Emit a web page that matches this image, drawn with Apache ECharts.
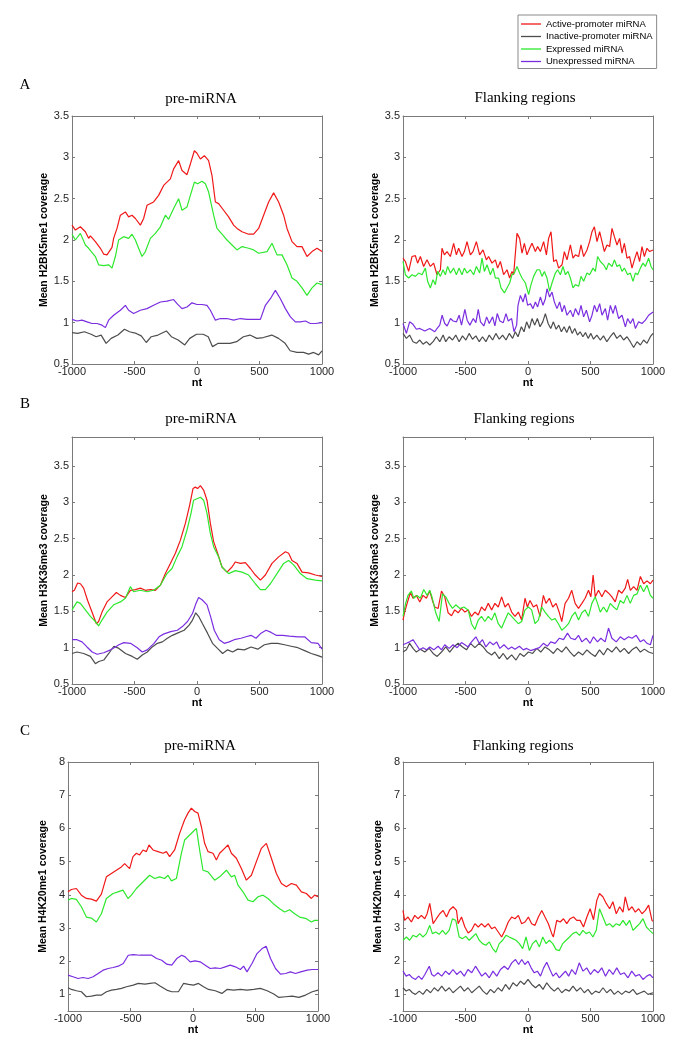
<!DOCTYPE html>
<html><head><meta charset="utf-8">
<script src="https://cdn.jsdelivr.net/npm/echarts@6/dist/echarts.min.js"></script>
<style>html,body{margin:0;padding:0;background:#fff}#c{width:685px;height:1051px}</style>
</head><body><div id="c"></div>
<script>
// ---------- tick labels ----------
const xTicks = [-1000, -500, 0, 500, 1000];
const yTicksA = [0.5, 1, 1.5, 2, 2.5, 3, 3.5];
const yTicksB = [0.5, 1, 1.5, 2, 2.5, 3, 3.5];
const yTicksC = [1, 2, 3, 4, 5, 6, 7, 8];
const seriesNames = ['Active-promoter miRNA', 'Inactive-promoter miRNA', 'Expressed miRNA', 'Unexpressed miRNA'];
const panelTitles = ['pre-miRNA', 'Flanking regions'];
const yNames = ['Mean H2BK5me1 coverage', 'Mean H3K36me3 coverage', 'Mean H4K20me1 coverage'];

// ---------- A: pre-miRNA ----------
const A_L_red = [[-1000,2.18],[-973,2.12],[-933,2.16],[-893,2.10],[-867,2.02],[-853,2.05],[-813,1.98],[-773,1.90],[-747,1.83],[-720,1.82],[-680,1.91],[-667,2.02],[-640,2.14],[-613,2.30],[-573,2.34],[-547,2.28],[-520,2.30],[-493,2.26],[-453,2.18],[-427,2.26],[-400,2.42],[-347,2.46],[-307,2.54],[-267,2.66],[-213,2.74],[-187,2.86],[-147,2.96],[-120,2.84],[-80,2.79],[-53,2.92],[-21,3.08],[0,3.05],[27,2.98],[59,3.02],[93,2.96],[120,2.78],[147,2.46],[173,2.44],[213,2.36],[253,2.28],[293,2.18],[320,2.14],[360,2.10],[413,2.07],[453,2.07],[493,2.14],[533,2.30],[573,2.46],[613,2.57],[653,2.46],[693,2.30],[720,2.14],[760,1.98],[800,1.92],[840,1.92],[880,1.80],[920,1.86],[960,1.90],[1000,1.86]];
const A_L_gray = [[-1000,0.88],[-955,0.87],[-901,0.89],[-847,0.86],[-807,0.83],[-767,0.85],[-727,0.75],[-687,0.81],[-633,0.85],[-580,0.92],[-540,0.89],[-486,0.87],[-446,0.84],[-406,0.76],[-366,0.83],[-312,0.85],[-245,0.90],[-205,0.83],[-151,0.79],[-98,0.73],[-58,0.81],[-4,0.86],[49,0.86],[90,0.83],[124,0.71],[170,0.75],[210,0.75],[264,0.75],[317,0.77],[371,0.83],[424,0.85],[478,0.81],[531,0.82],[598,0.85],[652,0.81],[705,0.75],[745,0.66],[799,0.64],[852,0.64],[893,0.62],[933,0.64],[973,0.61],[1000,0.66]];
const A_L_green = [[-1000,2.07],[-973,2.00],[-933,2.08],[-893,1.94],[-867,1.90],[-813,1.80],[-787,1.70],[-747,1.69],[-707,1.70],[-680,1.66],[-653,1.80],[-627,2.00],[-587,2.04],[-547,2.02],[-520,2.07],[-493,2.00],[-467,1.90],[-440,1.80],[-413,1.86],[-373,2.02],[-333,2.08],[-293,2.16],[-253,2.30],[-227,2.25],[-187,2.38],[-147,2.50],[-120,2.36],[-80,2.40],[-53,2.54],[-21,2.70],[5,2.68],[40,2.71],[67,2.68],[93,2.58],[133,2.30],[160,2.14],[200,2.07],[240,2.00],[280,1.94],[320,1.88],[360,1.92],[413,1.90],[453,1.88],[493,1.84],[560,1.86],[600,1.96],[640,1.82],[680,1.82],[720,1.70],[760,1.54],[800,1.50],[840,1.42],[880,1.33],[920,1.42],[960,1.48],[1000,1.46]];
const A_L_purple = [[-1000,1.04],[-960,1.02],[-920,1.03],[-880,1.01],[-840,0.99],[-800,0.99],[-760,0.97],[-733,0.94],[-707,1.03],[-667,1.09],[-613,1.15],[-573,1.21],[-547,1.15],[-507,1.11],[-453,1.15],[-400,1.17],[-347,1.21],[-293,1.25],[-240,1.26],[-187,1.28],[-160,1.23],[-120,1.17],[-80,1.19],[-40,1.24],[0,1.22],[40,1.22],[80,1.21],[107,1.15],[147,1.03],[187,1.05],[240,1.05],[293,1.03],[347,1.05],[400,1.04],[453,1.04],[507,1.04],[547,1.21],[587,1.29],[627,1.39],[667,1.29],[707,1.17],[747,1.07],[787,1.01],[827,1.01],[867,1.02],[907,0.99],[947,0.99],[1000,1.00]];

// ---------- A: flanking ----------
const A_R_red = [[-1000,1.78],[-981,1.74],[-955,1.62],[-928,1.80],[-901,1.81],[-883,1.72],[-861,1.80],[-835,1.68],[-808,1.76],[-781,1.68],[-755,1.72],[-728,1.58],[-701,1.64],[-688,1.90],[-669,1.82],[-648,1.86],[-621,1.80],[-595,1.96],[-573,1.82],[-555,1.90],[-528,1.80],[-509,1.86],[-488,1.98],[-461,1.82],[-440,1.86],[-413,1.98],[-387,1.82],[-360,1.88],[-333,1.76],[-315,1.80],[-288,1.72],[-261,1.76],[-243,1.66],[-221,1.74],[-195,1.58],[-168,1.64],[-147,1.54],[-128,1.62],[-115,1.58],[-88,2.08],[-67,2.02],[-48,1.84],[-29,1.96],[-8,1.82],[13,1.90],[32,1.96],[59,1.86],[77,1.92],[99,1.86],[125,1.98],[147,1.82],[165,2.02],[184,2.10],[205,1.74],[227,1.76],[245,1.66],[272,1.70],[291,1.86],[312,1.76],[339,1.94],[360,1.78],[379,1.82],[405,1.80],[424,1.94],[445,1.80],[472,1.88],[493,1.98],[512,2.10],[531,2.16],[552,1.98],[573,2.10],[592,1.98],[611,1.86],[632,1.94],[653,1.92],[672,2.14],[691,2.04],[712,1.94],[733,2.02],[752,1.84],[771,1.96],[792,1.78],[813,1.80],[832,1.66],[851,1.76],[872,1.86],[893,1.74],[912,1.92],[931,1.80],[952,1.90],[973,1.86],[1000,1.88]];
const A_R_gray = [[-1000,0.87],[-973,0.81],[-947,0.85],[-920,0.77],[-893,0.75],[-866,0.79],[-840,0.74],[-813,0.77],[-786,0.73],[-759,0.77],[-733,0.83],[-706,0.77],[-679,0.85],[-658,0.77],[-631,0.83],[-604,0.79],[-578,0.85],[-551,0.77],[-524,0.84],[-497,0.79],[-471,0.87],[-444,0.80],[-417,0.84],[-390,0.77],[-364,0.83],[-337,0.77],[-310,0.85],[-283,0.79],[-257,0.87],[-230,0.80],[-203,0.85],[-176,0.79],[-150,0.87],[-123,0.81],[-102,0.89],[-80,0.83],[-53,0.95],[-32,0.89],[-11,1.01],[11,0.93],[32,1.05],[54,0.97],[75,1.05],[96,0.95],[118,1.01],[139,1.11],[161,0.99],[182,0.93],[203,1.01],[225,0.92],[246,0.97],[267,0.89],[289,0.95],[310,0.88],[332,0.96],[353,0.87],[374,0.93],[396,0.85],[417,0.89],[439,0.83],[460,0.88],[481,0.81],[503,0.87],[524,0.80],[551,0.85],[578,0.79],[604,0.84],[631,0.77],[658,0.83],[685,0.88],[711,0.81],[738,0.85],[765,0.79],[792,0.83],[818,0.77],[845,0.70],[872,0.77],[899,0.73],[925,0.79],[952,0.75],[979,0.83],[1000,0.87]];
const A_R_green = [[-1000,1.74],[-981,1.58],[-955,1.54],[-928,1.58],[-901,1.56],[-875,1.60],[-848,1.58],[-821,1.66],[-803,1.50],[-781,1.42],[-760,1.52],[-741,1.46],[-723,1.62],[-701,1.56],[-680,1.64],[-661,1.58],[-643,1.68],[-621,1.60],[-595,1.66],[-573,1.58],[-552,1.66],[-528,1.58],[-509,1.66],[-488,1.60],[-461,1.64],[-435,1.58],[-413,1.68],[-387,1.60],[-368,1.78],[-349,1.62],[-328,1.70],[-301,1.58],[-280,1.66],[-261,1.54],[-235,1.54],[-216,1.42],[-189,1.36],[-168,1.42],[-147,1.48],[-128,1.58],[-109,1.60],[-88,1.68],[-67,1.60],[-48,1.54],[-21,1.48],[5,1.34],[24,1.46],[45,1.56],[72,1.64],[93,1.64],[112,1.56],[131,1.62],[152,1.54],[173,1.38],[192,1.48],[219,1.60],[237,1.64],[259,1.58],[280,1.68],[299,1.58],[320,1.62],[339,1.54],[360,1.42],[379,1.46],[405,1.44],[424,1.56],[445,1.50],[472,1.60],[493,1.58],[520,1.66],[539,1.62],[557,1.80],[579,1.74],[605,1.70],[627,1.64],[645,1.72],[672,1.68],[691,1.76],[712,1.68],[733,1.70],[752,1.62],[771,1.66],[797,1.58],[819,1.60],[840,1.50],[859,1.60],[877,1.58],[899,1.66],[920,1.72],[939,1.68],[965,1.78],[984,1.68],[1000,1.64]];
const A_R_purple = [[-1000,0.99],[-973,0.87],[-947,1.01],[-920,0.98],[-893,0.92],[-866,0.93],[-826,0.90],[-786,0.93],[-746,0.89],[-727,0.93],[-706,0.97],[-687,1.09],[-666,0.99],[-647,0.96],[-620,1.05],[-599,1.02],[-572,1.01],[-551,1.09],[-532,0.97],[-505,1.16],[-487,1.03],[-465,0.97],[-438,1.05],[-417,1.00],[-398,1.16],[-380,1.01],[-353,0.96],[-331,1.07],[-310,0.99],[-283,1.07],[-265,0.96],[-246,1.11],[-225,1.02],[-198,1.00],[-176,1.11],[-158,1.02],[-131,1.05],[-112,0.89],[-91,0.97],[-80,1.21],[-61,1.33],[-40,1.25],[-21,1.35],[-3,1.21],[19,1.23],[40,1.17],[59,1.25],[77,1.19],[99,1.31],[120,1.21],[139,1.29],[152,1.41],[173,1.31],[192,1.37],[211,1.25],[232,1.17],[253,1.25],[272,1.13],[291,1.21],[312,1.09],[339,1.15],[360,1.07],[379,1.17],[405,1.09],[424,1.21],[445,1.07],[467,1.15],[493,1.01],[512,1.09],[531,1.21],[552,1.13],[573,1.23],[592,1.09],[619,1.17],[637,1.03],[659,1.21],[680,1.11],[699,1.21],[725,1.05],[752,1.09],[779,0.95],[797,1.05],[819,0.99],[840,1.05],[859,0.93],[885,1.01],[912,0.99],[939,1.03],[965,1.09],[1000,1.13]];

// ---------- B: pre-miRNA ----------
const B_L_red = [[-1000,1.77],[-981,1.79],[-955,1.89],[-933,1.88],[-907,1.82],[-875,1.65],[-840,1.49],[-805,1.33],[-787,1.36],[-760,1.49],[-720,1.63],[-680,1.70],[-645,1.76],[-613,1.72],[-573,1.69],[-533,1.79],[-493,1.80],[-453,1.82],[-413,1.79],[-373,1.80],[-333,1.79],[-293,1.86],[-253,2.02],[-213,2.16],[-173,2.30],[-133,2.48],[-93,2.71],[-59,2.96],[-32,3.19],[-13,3.21],[5,3.19],[27,3.23],[53,3.17],[80,3.03],[107,2.71],[133,2.46],[165,2.30],[200,2.11],[240,2.04],[280,2.11],[307,2.18],[347,2.16],[387,2.17],[427,2.09],[467,2.00],[507,1.93],[547,2.00],[600,2.16],[653,2.25],[707,2.32],[733,2.30],[760,2.20],[800,2.16],[840,2.04],[893,2.03],[947,2.00],[1000,1.98]];
const B_L_gray = [[-1000,0.92],[-960,0.94],[-906,0.92],[-853,0.88],[-813,0.78],[-786,0.81],[-746,0.83],[-706,0.92],[-665,1.02],[-625,0.99],[-572,0.92],[-518,0.88],[-478,0.84],[-438,0.90],[-398,0.94],[-358,1.01],[-317,1.06],[-277,1.08],[-237,1.13],[-197,1.17],[-157,1.20],[-103,1.24],[-63,1.31],[-36,1.38],[-10,1.48],[17,1.42],[44,1.33],[84,1.20],[124,1.06],[164,0.99],[205,0.92],[245,0.97],[285,0.94],[325,0.98],[379,0.97],[432,1.01],[486,0.98],[539,1.04],[593,1.06],[646,1.06],[700,1.04],[753,1.02],[807,1.00],[861,0.96],[914,0.92],[968,0.89],[1000,0.87]];
const B_L_green = [[-1000,1.52],[-960,1.63],[-933,1.61],[-893,1.52],[-853,1.43],[-813,1.36],[-787,1.30],[-760,1.38],[-720,1.49],[-667,1.59],[-613,1.63],[-573,1.68],[-533,1.84],[-507,1.77],[-453,1.79],[-400,1.77],[-347,1.79],[-293,1.86],[-240,2.02],[-200,2.09],[-160,2.25],[-120,2.39],[-80,2.62],[-48,2.85],[-27,3.03],[0,3.05],[27,3.07],[53,3.03],[80,2.85],[107,2.57],[133,2.39],[173,2.25],[200,2.11],[253,2.02],[307,2.06],[360,2.04],[413,2.00],[467,1.88],[507,1.80],[547,1.80],[587,1.88],[640,2.02],[693,2.16],[733,2.20],[773,2.14],[827,2.02],[880,1.95],[947,1.93],[1000,1.92]];
const B_L_purple = [[-1000,1.11],[-960,1.11],[-920,1.08],[-880,1.01],[-839,0.94],[-799,0.91],[-746,0.93],[-692,0.97],[-652,1.01],[-625,1.04],[-585,1.07],[-532,1.06],[-478,1.00],[-438,0.94],[-398,0.97],[-344,1.06],[-304,1.15],[-264,1.19],[-210,1.22],[-157,1.24],[-117,1.29],[-76,1.36],[-36,1.47],[-10,1.60],[13,1.69],[40,1.66],[80,1.59],[110,1.42],[138,1.24],[178,1.11],[218,1.06],[258,1.08],[298,1.11],[352,1.13],[392,1.15],[432,1.17],[472,1.13],[512,1.20],[553,1.24],[593,1.21],[633,1.17],[686,1.17],[740,1.16],[807,1.15],[861,1.15],[914,1.07],[968,1.06],[1000,0.98]];

// ---------- B: flanking ----------
const B_R_red = [[-1000,1.38],[-987,1.49],[-960,1.65],[-941,1.76],[-920,1.68],[-893,1.72],[-866,1.63],[-840,1.72],[-813,1.68],[-786,1.78],[-765,1.65],[-746,1.56],[-719,1.54],[-692,1.78],[-666,1.70],[-639,1.48],[-612,1.44],[-586,1.52],[-559,1.48],[-532,1.54],[-505,1.49],[-479,1.52],[-452,1.43],[-425,1.49],[-398,1.45],[-372,1.56],[-345,1.51],[-318,1.61],[-291,1.52],[-265,1.61],[-238,1.56],[-211,1.70],[-184,1.56],[-158,1.61],[-131,1.49],[-104,1.43],[-77,1.49],[-51,1.38],[-24,1.68],[-5,1.56],[16,1.65],[43,1.56],[70,1.59],[96,1.43],[123,1.72],[144,1.61],[171,1.68],[198,1.56],[225,1.61],[251,1.48],[270,1.36],[297,1.61],[324,1.68],[350,1.79],[377,1.61],[404,1.54],[431,1.61],[457,1.68],[484,1.79],[503,1.70],[521,2.00],[538,1.70],[564,1.79],[591,1.70],[618,1.79],[645,1.75],[671,1.70],[698,1.63],[725,1.79],[751,1.75],[778,1.82],[797,1.94],[819,1.79],[845,1.84],[872,1.79],[899,1.98],[925,1.88],[952,1.92],[979,1.88],[1000,1.93]];
const B_R_gray = [[-1000,0.94],[-973,0.97],[-947,1.06],[-920,0.99],[-893,0.94],[-861,0.98],[-826,0.94],[-791,0.99],[-759,0.92],[-727,0.88],[-692,0.94],[-658,1.01],[-626,0.94],[-594,1.01],[-559,1.06],[-524,1.01],[-492,0.97],[-460,1.06],[-425,1.00],[-390,1.06],[-358,1.01],[-326,0.94],[-291,0.90],[-265,0.94],[-230,0.85],[-198,0.92],[-166,0.84],[-131,0.90],[-96,0.83],[-64,0.92],[-32,0.88],[3,0.94],[37,0.92],[70,0.99],[102,0.94],[136,1.01],[171,0.97],[203,0.92],[235,0.99],[270,0.94],[305,1.01],[337,0.94],[369,0.88],[404,0.94],[438,0.90],[471,0.97],[503,0.92],[538,0.88],[572,0.97],[604,0.90],[636,0.99],[671,0.94],[706,1.01],[738,0.94],[770,0.99],[805,0.92],[832,0.97],[866,1.01],[899,0.94],[931,0.98],[965,0.94],[1000,0.92]];
const B_R_green = [[-1000,1.43],[-979,1.61],[-960,1.72],[-933,1.78],[-914,1.68],[-888,1.72],[-861,1.68],[-834,1.80],[-807,1.72],[-786,1.79],[-765,1.68],[-738,1.48],[-711,1.36],[-684,1.74],[-658,1.70],[-631,1.61],[-604,1.54],[-578,1.59],[-545,1.54],[-513,1.56],[-479,1.52],[-452,1.33],[-425,1.25],[-398,1.38],[-372,1.43],[-345,1.36],[-318,1.43],[-291,1.38],[-265,1.48],[-238,1.33],[-211,1.27],[-184,1.38],[-158,1.48],[-131,1.43],[-104,1.38],[-77,1.33],[-51,1.36],[-24,1.52],[3,1.56],[29,1.52],[56,1.33],[83,1.38],[110,1.56],[136,1.49],[163,1.43],[190,1.38],[217,1.40],[243,1.33],[270,1.24],[297,1.28],[324,1.33],[350,1.43],[377,1.49],[404,1.38],[431,1.48],[457,1.52],[484,1.43],[511,1.61],[538,1.70],[556,1.61],[578,1.49],[604,1.56],[631,1.49],[658,1.61],[685,1.56],[711,1.52],[738,1.65],[765,1.61],[792,1.72],[818,1.61],[845,1.72],[872,1.74],[899,1.86],[925,1.77],[952,1.86],[979,1.72],[1000,1.68]];
const B_R_purple = [[-1000,1.04],[-973,1.06],[-947,1.08],[-920,1.11],[-893,1.04],[-866,0.97],[-840,1.00],[-813,0.97],[-786,1.01],[-754,0.97],[-719,1.02],[-692,0.97],[-666,1.04],[-631,0.99],[-599,1.04],[-567,1.00],[-532,1.07],[-505,1.04],[-479,1.01],[-452,1.08],[-417,1.15],[-390,1.06],[-364,1.11],[-337,1.01],[-305,1.08],[-278,1.04],[-251,1.08],[-225,0.99],[-192,1.04],[-158,0.98],[-131,1.01],[-104,0.98],[-69,1.02],[-37,0.97],[-11,0.99],[21,0.96],[56,0.98],[91,1.00],[123,1.06],[155,1.02],[182,1.08],[217,1.06],[251,1.13],[284,1.11],[316,1.20],[342,1.13],[377,1.11],[404,1.17],[431,1.08],[465,1.13],[497,1.06],[524,1.15],[556,1.08],[583,1.13],[617,1.08],[644,1.27],[671,1.13],[706,1.08],[738,1.15],[770,1.11],[805,1.15],[832,1.13],[866,1.17],[899,1.08],[925,1.11],[952,1.06],[979,1.04],[1000,1.17]];

// ---------- C: pre-miRNA ----------
const C_L_red = [[-1000,4.09],[-973,4.16],[-933,4.19],[-893,3.99],[-853,3.89],[-813,3.87],[-773,3.81],[-733,4.02],[-693,4.54],[-653,4.64],[-613,4.74],[-573,4.84],[-547,4.94],[-507,4.79],[-480,5.15],[-453,5.25],[-427,5.20],[-400,5.35],[-373,5.30],[-352,5.50],[-320,5.35],[-280,5.30],[-240,5.25],[-213,5.30],[-187,5.15],[-147,5.35],[-107,5.85],[-67,6.26],[-40,6.46],[-13,6.61],[13,6.51],[40,6.46],[67,6.05],[93,5.55],[120,5.30],[160,5.25],[187,5.05],[213,5.25],[253,5.40],[280,5.50],[307,5.25],[347,5.10],[387,4.79],[427,4.44],[467,4.59],[507,5.00],[547,5.40],[587,5.55],[627,5.10],[667,4.64],[707,4.34],[747,4.24],[787,4.34],[827,4.29],[867,4.09],[907,4.04],[947,3.89],[973,3.99],[1000,3.94]];
const C_L_gray = [[-1000,1.20],[-973,1.15],[-933,1.11],[-893,1.08],[-853,0.93],[-813,0.95],[-772,0.98],[-732,0.98],[-692,1.08],[-652,1.13],[-612,1.15],[-572,1.18],[-532,1.23],[-478,1.28],[-438,1.33],[-384,1.31],[-344,1.33],[-304,1.35],[-264,1.25],[-210,1.13],[-170,1.08],[-117,1.08],[-76,1.33],[-36,1.30],[4,1.28],[44,1.33],[84,1.23],[124,1.15],[178,1.11],[231,1.03],[272,1.15],[325,1.13],[379,1.15],[432,1.13],[486,1.15],[539,1.18],[593,1.11],[646,1.01],[687,0.91],[740,0.93],[794,0.95],[847,0.91],[901,0.98],[954,1.08],[1000,1.13]];
const C_L_green = [[-1000,3.84],[-973,3.89],[-933,3.86],[-893,3.64],[-853,3.33],[-813,3.30],[-773,3.18],[-733,3.43],[-693,3.89],[-640,4.04],[-600,4.09],[-560,4.14],[-520,3.89],[-493,3.99],[-453,4.19],[-413,4.34],[-373,4.49],[-347,4.59],[-307,4.49],[-267,4.54],[-227,4.49],[-200,4.59],[-173,4.42],[-133,4.49],[-93,5.25],[-67,5.65],[-27,5.80],[0,5.90],[27,6.00],[53,5.35],[80,4.74],[120,4.69],[173,4.44],[213,4.54],[267,4.74],[307,4.54],[333,4.59],[360,4.29],[400,4.09],[440,3.84],[480,3.79],[520,3.94],[560,3.99],[600,3.89],[640,3.74],[693,3.58],[733,3.48],[773,3.55],[813,3.43],[853,3.33],[907,3.28],[947,3.18],[973,3.23],[1000,3.23]];
const C_L_purple = [[-1000,1.58],[-960,1.53],[-920,1.48],[-880,1.51],[-839,1.48],[-799,1.53],[-759,1.63],[-719,1.73],[-679,1.78],[-639,1.81],[-598,1.85],[-558,1.93],[-518,2.18],[-478,2.20],[-424,2.18],[-371,2.18],[-331,2.18],[-291,2.08],[-250,2.03],[-210,1.91],[-170,1.88],[-130,2.08],[-90,2.18],[-63,2.13],[-23,1.98],[17,2.01],[57,1.98],[98,1.88],[138,1.78],[178,1.80],[218,1.78],[258,1.83],[298,1.88],[339,1.83],[379,1.75],[405,1.85],[432,1.68],[472,1.93],[512,2.23],[553,2.38],[585,2.45],[620,2.08],[660,1.78],[700,1.61],[740,1.63],[780,1.68],[820,1.63],[861,1.68],[914,1.73],[954,1.75],[1000,1.75]];

// ---------- C: flanking ----------
const C_R_red = [[-1000,3.53],[-987,3.23],[-960,3.33],[-933,3.18],[-906,3.38],[-880,3.28],[-853,3.38],[-826,3.28],[-807,3.43],[-786,3.74],[-759,3.13],[-733,3.28],[-706,3.43],[-679,3.53],[-652,3.33],[-626,3.55],[-599,3.64],[-572,3.53],[-559,3.13],[-532,3.33],[-505,3.03],[-479,2.85],[-452,2.93],[-425,3.13],[-398,3.03],[-372,3.13],[-345,3.03],[-318,3.13],[-291,2.98],[-265,3.03],[-238,2.88],[-211,2.73],[-184,2.93],[-158,3.18],[-131,3.33],[-104,3.28],[-77,3.38],[-51,3.13],[-24,3.18],[3,3.33],[29,3.13],[56,3.08],[83,3.33],[110,3.53],[136,3.33],[163,3.13],[190,2.83],[203,2.73],[230,3.23],[257,3.18],[284,3.28],[310,3.13],[337,3.28],[364,3.33],[390,3.23],[417,3.23],[444,3.03],[471,3.33],[497,3.58],[524,3.25],[551,3.84],[572,4.04],[599,3.94],[626,3.74],[653,3.58],[679,3.79],[706,3.43],[733,3.64],[760,3.48],[778,3.94],[805,3.53],[832,3.64],[858,3.48],[885,3.58],[912,3.43],[939,3.53],[965,3.69],[992,3.23],[1000,3.20]];
const C_R_gray = [[-1000,1.20],[-975,1.10],[-950,1.15],[-925,1.05],[-900,1.00],[-870,1.10],[-840,1.00],[-810,1.15],[-780,1.05],[-750,1.20],[-720,1.10],[-690,1.25],[-660,1.10],[-630,1.20],[-600,1.05],[-570,1.15],[-540,1.25],[-510,1.10],[-480,1.20],[-450,1.05],[-420,1.15],[-390,1.25],[-360,1.10],[-330,1.00],[-300,1.15],[-270,1.05],[-240,1.20],[-210,1.10],[-180,1.30],[-150,1.15],[-120,1.35],[-90,1.25],[-60,1.40],[-30,1.30],[0,1.45],[30,1.30],[60,1.20],[90,1.30],[120,1.15],[150,1.35],[180,1.20],[210,1.10],[240,1.20],[270,1.05],[300,1.15],[330,1.10],[360,1.25],[390,1.10],[420,1.20],[450,1.05],[480,1.15],[510,1.00],[540,1.10],[570,1.05],[600,1.20],[630,1.05],[660,1.15],[690,1.00],[720,1.10],[750,1.00],[780,1.10],[810,1.05],[840,1.15],[870,1.00],[900,1.05],[930,1.10],[960,1.00],[1000,1.05]];
const C_R_green = [[-1000,2.63],[-973,2.73],[-947,2.63],[-920,2.78],[-893,2.73],[-866,2.83],[-840,2.73],[-813,2.83],[-786,3.08],[-765,2.83],[-738,2.88],[-711,2.81],[-684,2.93],[-658,2.81],[-631,2.93],[-604,3.28],[-578,3.23],[-551,2.73],[-524,2.68],[-497,2.75],[-471,2.63],[-444,2.73],[-417,2.83],[-390,2.63],[-364,2.53],[-337,2.48],[-310,2.58],[-283,2.38],[-257,2.27],[-230,2.53],[-203,2.63],[-176,2.78],[-150,2.73],[-123,2.68],[-96,2.63],[-69,2.53],[-43,2.38],[-16,2.73],[11,2.32],[37,2.53],[64,2.63],[91,2.43],[118,2.73],[144,2.53],[171,2.63],[198,2.53],[225,2.35],[251,2.32],[278,2.53],[305,2.63],[332,2.73],[358,2.83],[385,2.88],[412,2.78],[439,2.93],[465,2.83],[492,2.88],[519,2.73],[546,2.93],[572,3.58],[599,3.33],[626,3.08],[653,3.13],[679,3.03],[706,3.13],[733,3.08],[760,3.23],[786,3.08],[813,3.23],[840,2.93],[866,3.03],[893,3.13],[920,3.28],[947,3.03],[973,2.93],[1000,2.83]];
const C_R_purple = [[-1000,1.70],[-975,1.55],[-950,1.60],[-925,1.50],[-900,1.45],[-875,1.55],[-850,1.45],[-825,1.60],[-790,1.85],[-770,1.60],[-750,1.55],[-720,1.65],[-690,1.55],[-660,1.70],[-630,1.60],[-600,1.75],[-570,1.60],[-540,1.70],[-510,1.55],[-480,1.75],[-450,1.65],[-420,1.85],[-395,1.70],[-370,1.55],[-340,1.65],[-310,1.50],[-280,1.70],[-250,1.55],[-220,1.75],[-190,1.85],[-160,1.75],[-130,1.95],[-100,2.05],[-75,1.90],[-50,2.05],[-25,1.90],[0,2.00],[25,1.80],[50,1.65],[75,1.70],[100,1.55],[125,1.80],[150,1.97],[175,1.75],[200,1.55],[225,1.65],[250,1.50],[275,1.60],[300,1.70],[325,1.55],[350,1.75],[380,1.60],[410,1.95],[440,1.70],[470,1.80],[500,1.60],[530,1.75],[560,1.65],[590,1.80],[620,1.55],[650,1.75],[680,1.60],[710,1.80],[740,1.60],[770,1.65],[800,1.50],[830,1.70],[860,1.55],[890,1.60],[920,1.45],[950,1.55],[975,1.60],[1000,1.50]];

// ---------- build ----------
const colors = ['#f01818', '#4d4d4d', '#2ee82e', '#7a2ee0'];
const panels = [
  {g:{left:72, top:116, width:250, height:248}, ymin:0.5, ymax:3.5, ticks:yTicksA, yName:yNames[0], data:[A_L_red, A_L_gray, A_L_green, A_L_purple], title:panelTitles[0], tx:201, ty:99},
  {g:{left:403, top:116, width:250, height:248}, ymin:0.5, ymax:3.5, ticks:yTicksA, yName:yNames[0], data:[A_R_red, A_R_gray, A_R_green, A_R_purple], title:panelTitles[1], tx:525, ty:98},
  {g:{left:72, top:437, width:250, height:247}, ymin:0.5, ymax:3.9, ticks:yTicksB, yName:yNames[1], data:[B_L_red, B_L_gray, B_L_green, B_L_purple], title:panelTitles[0], tx:201, ty:419},
  {g:{left:403, top:437, width:250, height:247}, ymin:0.5, ymax:3.9, ticks:yTicksB, yName:yNames[1], data:[B_R_red, B_R_gray, B_R_green, B_R_purple], title:panelTitles[1], tx:524, ty:419},
  {g:{left:68, top:762, width:250, height:249}, ymin:0.5, ymax:8, ticks:yTicksC, yName:yNames[2], data:[C_L_red, C_L_gray, C_L_green, C_L_purple], title:panelTitles[0], tx:200, ty:746},
  {g:{left:403, top:762, width:250, height:249}, ymin:0.5, ymax:8, ticks:yTicksC, yName:yNames[2], data:[C_R_red, C_R_gray, C_R_green, C_R_purple], title:panelTitles[1], tx:523, ty:746}
];
const letters = [['A',25,85],['B',25,404],['C',25,731]];

const boxColor = '#7a7a7a';
const labelStyle = {color:'#262626', fontSize:11, fontFamily:'Liberation Sans, Arial, sans-serif'};
const plain = v => String(v);
const grid = [], xAxis = [], yAxis = [], series = [], graphic = [];
panels.forEach((p, i) => {
  grid.push(Object.assign({containLabel:false}, p.g));
  const axLine = {show:true, onZero:false, lineStyle:{color:boxColor, width:1}};
  const tick = {show:true, inside:true, length:3, lineStyle:{color:boxColor}};
  xAxis.push({type:'value', gridIndex:i, min:-1000, max:1000, interval:500, position:'bottom',
    axisLine:axLine, axisTick:tick, splitLine:{show:false},
    axisLabel:Object.assign({margin:2, customValues:xTicks, formatter:plain}, labelStyle),
    name:'nt', nameLocation:'middle', nameGap:12,
    nameTextStyle:{fontSize:11, fontWeight:'bold', color:'#000', fontFamily:'Liberation Sans, Arial, sans-serif'}});
  xAxis.push({type:'value', gridIndex:i, min:-1000, max:1000, interval:500, position:'top',
    axisLine:axLine, axisTick:tick, splitLine:{show:false}, axisLabel:{show:false}});
  yAxis.push({type:'value', gridIndex:i, min:p.ymin, max:p.ymax, position:'left',
    axisLine:axLine, axisTick:Object.assign({customValues:p.ticks}, tick), splitLine:{show:false},
    axisLabel:Object.assign({margin:3, customValues:p.ticks, formatter:plain}, labelStyle),
    name:p.yName, nameLocation:'middle', nameGap:19,
    nameTextStyle:{fontSize:10.5, fontWeight:'bold', color:'#000', fontFamily:'Liberation Sans, Arial, sans-serif'}});
  yAxis.push({type:'value', gridIndex:i, min:p.ymin, max:p.ymax, position:'right',
    axisLine:axLine, axisTick:Object.assign({customValues:p.ticks}, tick), splitLine:{show:false}, axisLabel:{show:false}});
  p.data.forEach((d, k) => {
    series.push({type:'line', name:seriesNames[k], xAxisIndex:2*i, yAxisIndex:2*i, data:d,
      symbol:'none', showSymbol:false, smooth:false, animation:false,
      lineStyle:{color:colors[k], width:1.2}, itemStyle:{color:colors[k]}});
  });
  graphic.push({type:'text', x:p.tx, y:p.ty, style:{text:p.title, fill:'#000',
    font:'15px "Liberation Serif", "Times New Roman", serif', align:'center', verticalAlign:'middle', textAlign:'center', textVerticalAlign:'middle'}});
});
letters.forEach(l => graphic.push({type:'text', x:l[1], y:l[2], style:{text:l[0], fill:'#000',
  font:'15px "Liberation Serif", "Times New Roman", serif', align:'center', verticalAlign:'middle', textAlign:'center', textVerticalAlign:'middle'}}));

const chart = echarts.init(document.getElementById('c'), null, {renderer:'canvas'});
chart.setOption({
  backgroundColor:'#fff',
  animation:false,
  grid, xAxis, yAxis, series, graphic,
  legend:{show:true, data:seriesNames, orient:'vertical', left:518, top:15, padding:[3,4,1,3],
    icon:'rect', itemWidth:20, itemHeight:1.3, itemGap:0.5, borderColor:'#8a8a8a', borderWidth:1, backgroundColor:'#fff',
    textStyle:{fontSize:9.5, lineHeight:12, color:'#000', fontFamily:'Liberation Sans, Arial, sans-serif'}}
});
</script></body></html>
